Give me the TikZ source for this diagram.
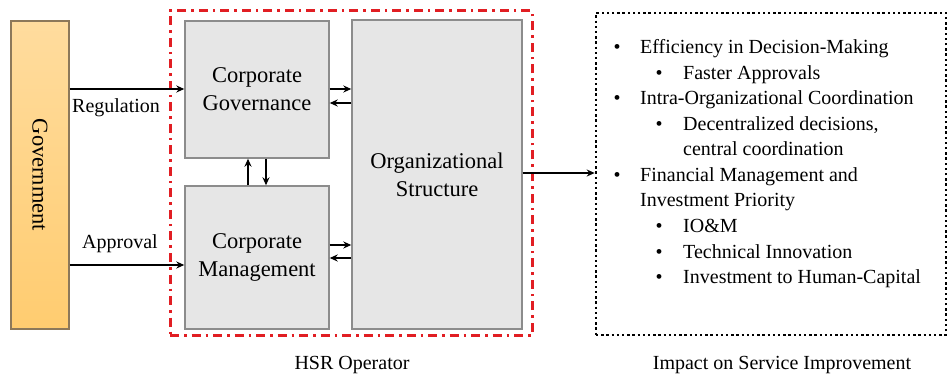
\documentclass[tikz,border=0pt]{standalone}
\usepackage{fontspec}
\setmainfont{Liberation Serif}
\usetikzlibrary{arrows.meta}
\definecolor{boxfill}{RGB}{230,230,230}
\definecolor{boxline}{RGB}{140,140,140}
\definecolor{govtop}{RGB}{255,220,158}
\definecolor{govbot}{RGB}{255,204,112}
\definecolor{govline}{RGB}{140,120,90}
\definecolor{hsrred}{RGB}{225,30,35}
\begin{document}
\begin{tikzpicture}[x=1pt,y=-1pt,
  graybox/.style={draw=boxline,fill=boxfill,line width=1.4pt,inner sep=0pt,align=center,
    font=\fontsize{22.5}{28}\selectfont},
  arr/.style={line width=2.6pt,-{Stealth[length=8pt,width=7pt]}},
  lbl/.style={font=\fontsize{20}{25.5}\selectfont,inner sep=0pt},
  itm/.style={lbl,anchor=base west}]
\useasboundingbox (0,0) rectangle (947,374);
% red operator frame
\node[draw=hsrred,line width=3pt,dash pattern=on 9pt off 5pt on 2.5pt off 5pt,
  minimum width=362pt,minimum height=324pt,inner sep=0pt] (hsr) at (351,173) {};
% dotted impact frame
\node[draw=black,line width=2.6pt,dash pattern=on 2.4pt off 2.8pt,
  minimum width=350pt,minimum height=322pt,inner sep=0pt] (imp) at (771,174) {};
% government
\node[draw=govline,top color=govtop,bottom color=govbot,line width=1.4pt,
  minimum width=58pt,minimum height=308pt,inner sep=0pt] (gov) at (40,175) {};
\node[rotate=-90,font=\fontsize{22.5}{28}\selectfont,inner sep=0pt] (govt) at (gov.center) {Government};
% operator boxes
\node[graybox,minimum width=144pt,minimum height=137pt] (cg) at (257,89.5) {Corporate\\Governance};
\node[graybox,minimum width=144pt,minimum height=143pt] (cm) at (257,257.5) {Corporate\\Management};
\node[graybox,minimum width=170pt,minimum height=309pt] (os) at (437,174.5) {Organizational\\Structure};
% connectors
\draw[arr] (gov.east |- 0,89) -- (cg.west |- 0,89);
\draw[arr] (gov.east |- 0,265) -- (cm.west |- 0,265);
\draw[arr] (cg.east |- 0,89) -- (os.west |- 0,89);
\draw[arr] (os.west |- 0,103) -- (cg.east |- 0,103);
\draw[arr] (cm.east |- 0,245) -- (os.west |- 0,245);
\draw[arr] (os.west |- 0,258) -- (cm.east |- 0,258);
\draw[arr] (cm.north -| 248,0) -- (cg.south -| 248,0);
\draw[arr] (cg.south -| 266,0) -- (cm.north -| 266,0);
\draw[arr] (os.east |- 0,173) -- (imp.west |- 0,173);
% labels
\node[itm] (reg) at (72,113) {Regulation};
\node[itm] (app) at (82,248) {Approval};
\node[lbl,anchor=base] (hsrcap) at (352,369) {HSR Operator};
\node[lbl,anchor=base] (impcap) at (782,369) {Impact on Service Improvement};
% list
\node[lbl,anchor=base] (b1) at (617,54) {•};
\node[itm] (t1) at (640,54) {Efficiency in Decision-Making};
\node[lbl,anchor=base] (b2) at (659,79.5) {•};
\node[itm] (t2) at (683,79.5) {Faster Approvals};
\node[lbl,anchor=base] (b3) at (617,105) {•};
\node[itm] (t3) at (640,105) {Intra-Organizational Coordination};
\node[lbl,anchor=base] (b4) at (659,130.5) {•};
\node[itm] (t4) at (683,130.5) {Decentralized decisions,};
\node[itm] (t5) at (683,156) {central coordination};
\node[lbl,anchor=base] (b6) at (617,181.5) {•};
\node[itm] (t6) at (640,181.5) {Financial Management and};
\node[itm] (t7) at (640,207) {Investment Priority};
\node[lbl,anchor=base] (b8) at (659,232.5) {•};
\node[itm] (t8) at (683,232.5) {IO\&M};
\node[lbl,anchor=base] (b9) at (659,258) {•};
\node[itm] (t9) at (683,258) {Technical Innovation};
\node[lbl,anchor=base] (b10) at (659,283.5) {•};
\node[itm] (t10) at (683,283.5) {Investment to Human-Capital};
\end{tikzpicture}
\end{document}
